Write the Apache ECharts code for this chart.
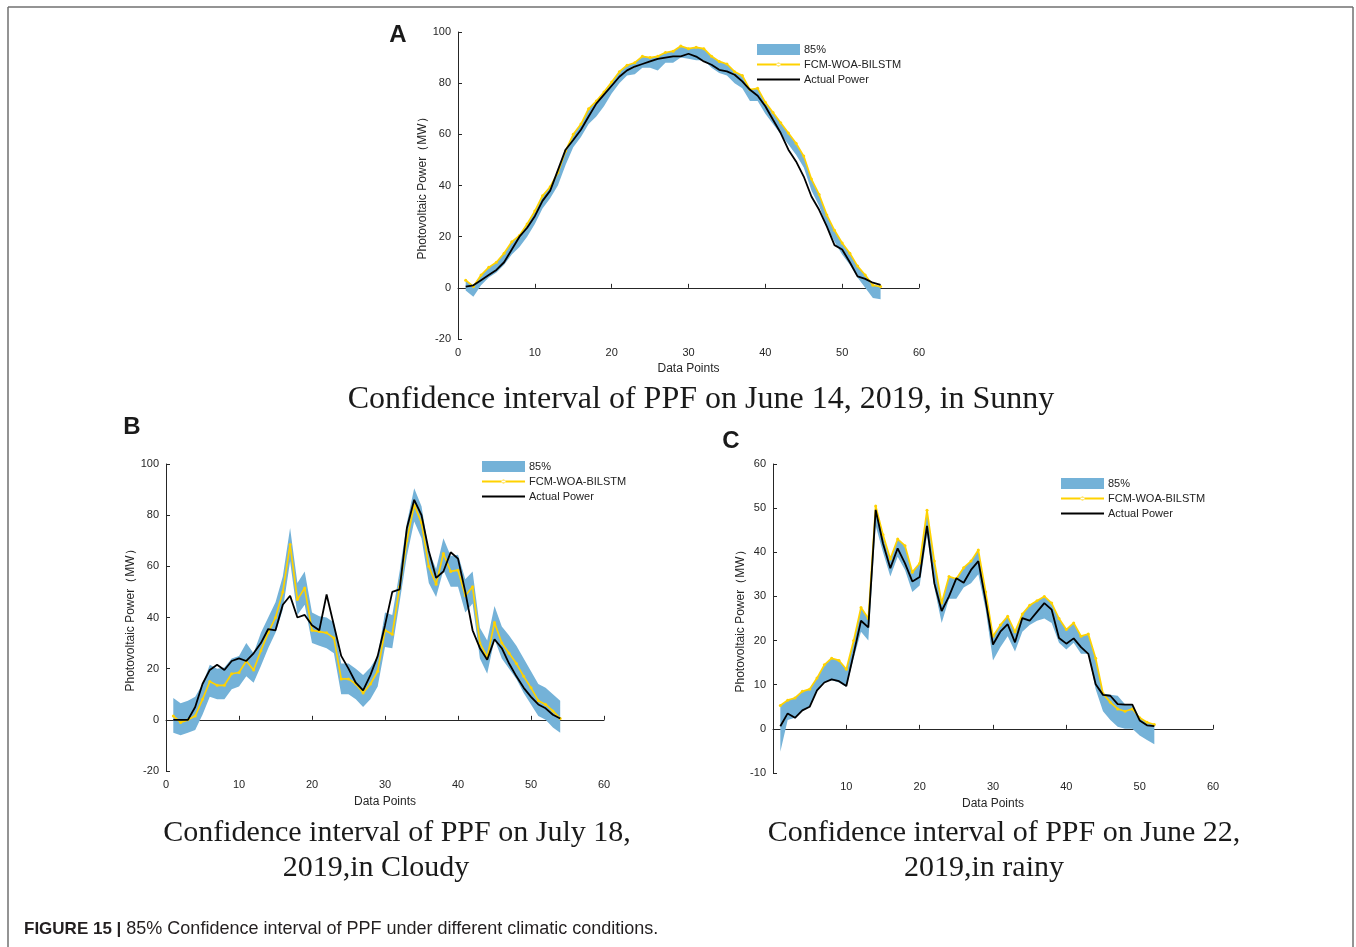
<!DOCTYPE html>
<html><head><meta charset="utf-8">
<script src="https://cdn.jsdelivr.net/npm/echarts@6/dist/echarts.min.js"></script>
<style>html,body{margin:0;padding:0;background:#fff}#c{width:1356px;height:947px}</style>
</head><body><div id="c"></div>
<script>
// ---------- Panel A: June 14, 2019, Sunny ----------
const actualA = [0.5,1,3,5,7,10,15,20,23.5,28,34,38,46,54,57.8,61.8,67,72,75.5,79,82.5,85,86.5,87.5,88.5,89.5,90,90.5,90.5,91.5,90.4,88.5,87.2,85.2,84.6,83.3,80.7,77.4,75.1,71,65.7,60.5,54,49.4,43.5,35.7,30.5,24,16.7,15,10,4.5,3.5,2,1.2];
const predA   = [3,0.5,5,8,10,13.5,18,20.5,25,30,36,39.5,45,53.5,60,64,70,73,76.5,80.5,84.5,87,88,90.5,90,90.5,92,92.5,94.5,93.5,94,93.5,90.5,88.5,87.5,84.5,83,77.5,78,72.5,68.5,64.5,60.5,56.5,51.5,42.5,36.5,28.5,22.5,17.5,13.5,8.5,5,1,0.5];
const lowerA  = [-1,-3.5,1,4,6,9,13,16,20,25,31,35,40,48,55,59,64,67,71,76,80,83,83.5,86,86,85,88,88,90,89.5,89,89,86,84,83,80,78,73,73,68,64,60,56,52,47,38,32,24,18,13,9,4,0,-4,-4.5];
const upperA  = [3,1,5,8,10,13.5,18,20.5,25,30,36,39.5,45,53.5,60,64,70,73,76.5,80.5,84.5,87,88,90.5,90,90.5,92,92.5,94.5,93.5,94,93.5,90.5,88.5,87.5,84.5,83,77.5,78,72.5,68.5,64.5,60.5,56.5,51.5,42.5,36.5,28.5,22.5,17.5,13.5,8.5,5,1,0.5];

// ---------- Panel B: July 18, 2019, Cloudy ----------
const actualB = [0,0,0,5,14,19.5,21.5,19.5,23,24,23,26,30,35.5,35,45,48.5,40,41,37,35,49,37,25,20,14.5,11.5,17.5,25,37,50,51,75,86,80,66,55.5,58,65.5,63,50,35,28,23.5,31.5,28,22,17,12.5,9,6,4.5,2,0.5];
const predB   = [1.5,-1,0,1.5,8,15,13.5,13.5,18,18.5,23,19.5,27,34,40,50,68.5,47,51.5,35,34.5,34,32,16,16,14,10.5,14,19,35,33.5,52,70,84,77,60,53,65,58,58.5,48.5,52,30,24.5,38,30,26,22,17,12.5,7.5,6,3.5,0.5];
const lowerB  = [-5,-6,-5,-4,2,9,8,8,12,13,17,14.5,21,28,34,43,62,41,45,30,29,28,26,10,10,8,5,8,13,28.5,28,46,64,77.5,71,53.5,48,58.5,52,52,42,45.5,24,18,31.5,24,20,16,10.5,6,1.5,0,-3,-5];
const upperB  = [8.5,6.5,7.5,9,14,21.5,20,20.5,24,25,30,26,34,40,46,56,75,53.5,58,42,40.5,40,38,22,22,20,17.5,20.5,25,42,41,58,77,90.5,83.5,66,59,71,64,64.5,55,58,36,31,44.5,36.5,33,29,24,19,14,12.5,10,7.5];

// ---------- Panel C: June 22, 2019, rainy ----------
const actualC = [0.6,3.5,2.5,4.2,5,8.7,10.5,11.2,10.8,9.7,17,24.5,23,49.6,42,36.4,40.9,37.5,33.4,34.4,46,33,26.7,30,34.1,33.1,36,38,29,19.1,22,23.7,19.6,25.1,24.5,26.5,28.5,27,20.6,19.3,20.5,18.5,17,10.1,7.7,7.5,5.6,5.5,5.5,1.9,0.8,0.6];
const predC   = [5.3,6.5,7,8.5,9,11.5,14.5,16,15.5,13.5,20,27.5,25,50.5,44,38.5,43,41.5,35.5,37.5,49.5,38,28.5,34.5,34,36.5,38,40.5,31,21,23.5,25.5,22,26,28,29,30,28.5,25,22.5,24,21,21.5,16,8,6,4.5,4,4.5,2.5,1.5,1];
const lowerC  = [-5.2,2,2.5,4,5,8.5,10.5,11,10.5,9.5,16,22,20,46,40,34.5,39,36,31,32.5,44,32,24,29.5,29.5,32,33,35,27,15.5,18.5,21,17.5,22,23.5,24.5,25,24,19.5,18,19.5,17,17,9,4,2,0.5,0,0,-1.5,-2.5,-3.5];
const upperC  = [5.3,6.5,7,8.5,9,11.5,14.5,16,15.5,13.5,20,27.5,25,50.5,44,38.5,43,41.5,35.5,37.5,49.5,38,28.5,34.5,34,36.5,38,40.5,31,21,23.5,25.5,22,26,28,29,30,28.5,25,22.5,24,21,21.5,16,8,7.7,7.5,5.6,5.5,2.5,1.5,1];

// ---------- tick settings ----------
const xTicks = [0,10,20,30,40,50,60];
const yTicksAB = [-20,0,20,40,60,80,100];
const yTicksC = [-10,0,10,20,30,40,50,60];

const BLUE = '#74b2d8', YEL = '#ffd200';
const FONT = '"Liberation Sans", Arial, sans-serif';
const SERIF = '"Liberation Serif", "Times New Roman", serif';

const chart = echarts.init(document.getElementById('c'), null, {renderer:'canvas'});

const grids = [
  {left:458, right:437, top:32, bottom:608},
  {left:166, right:752, top:464, bottom:176},
  {left:773, right:143, top:464, bottom:174}
];
const yRanges = [[yTicksAB, 20],[yTicksAB, 20],[yTicksC, 10]];
const yNameGaps = [27, 27, 23];
const xNameGaps = [24, 25, 25];

function axisCommon(){
  return {
    axisLine:{show:true, lineStyle:{color:'#262626', width:1}},
    axisTick:{show:true, inside:true, length:4, lineStyle:{color:'#262626'}},
    axisLabel:{color:'#262626', fontSize:11, fontFamily:FONT, margin:7},
    splitLine:{show:false},
    nameTextStyle:{color:'#262626', fontSize:12, fontFamily:FONT}
  };
}

const xAxes = grids.map((g,i)=>Object.assign(axisCommon(), {
  type:'value', gridIndex:i, min:xTicks[0], max:xTicks[xTicks.length-1], interval:10,
  name:'Data Points', nameLocation:'middle', nameGap:xNameGaps[i],
  axisLabel:Object.assign(axisCommon().axisLabel, {margin:8,
    formatter: v => (i===2 && v===0) ? '' : String(v)})
}));
const yAxes = grids.map((g,i)=>Object.assign(axisCommon(), {
  type:'value', gridIndex:i, min:yRanges[i][0][0], max:yRanges[i][0][yRanges[i][0].length-1],
  interval:yRanges[i][1],
  name:'Photovoltaic Power\uFF08MW\uFF09', nameLocation:'middle', nameGap:yNameGaps[i], nameRotate:90
}));

const panels = [
  {lower:lowerA, upper:upperA, pred:predA, act:actualA},
  {lower:lowerB, upper:upperB, pred:predB, act:actualB},
  {lower:lowerC, upper:upperC, pred:predC, act:actualC}
];

const series = [];
panels.forEach((p,i)=>{
  const xs = p.act.map((_,k)=>k+1);
  series.push({
    type:'custom', name:'85%', xAxisIndex:i, yAxisIndex:i, z:1, silent:true,
    itemStyle:{color:BLUE},
    data: xs.map((x,k)=>[x, p.lower[k], p.upper[k]]),
    encode:{x:0, y:[1,2]},
    renderItem:(params, api)=>{
      if (params.dataIndex !== 0) return null;
      const pts = [];
      for (let k=0;k<xs.length;k++) pts.push(api.coord([xs[k], p.upper[k]]));
      for (let k=xs.length-1;k>=0;k--) pts.push(api.coord([xs[k], p.lower[k]]));
      return {type:'polygon', shape:{points:pts}, style:{fill:BLUE}};
    }
  });
  series.push({
    type:'line', name:'FCM-WOA-BILSTM', xAxisIndex:i, yAxisIndex:i,
    symbol:'circle', symbolSize:3, showSymbol:true,
    lineStyle:{color:YEL, width:1.7}, itemStyle:{color:YEL}, z:3,
    data: xs.map((x,k)=>[x, p.pred[k]])
  });
  series.push({
    type:'line', name:'Actual Power', xAxisIndex:i, yAxisIndex:i,
    symbol:'none', lineStyle:{color:'#000', width:1.8}, itemStyle:{color:'#000'}, z:4,
    data: xs.map((x,k)=>[x, p.act[k]])
  });
});

const ICON_LINE = 'path://M0,0L0.01,0Z M0,4H43V6H0Z M0,10L0.01,10Z';
const ICON_DOT  = 'path://M0,0L0.01,0Z M0,4H43V6H0Z M19.5,5a2,2 0 1,0 4,0a2,2 0 1,0 -4,0Z M0,10L0.01,10Z';

const legendPos = [{left:757, top:44},{left:482, top:461},{left:1061, top:478}];
const legends = legendPos.map(pos=>({
  orient:'vertical', left:pos.left, top:pos.top, itemWidth:43, itemHeight:11, itemGap:4,
  padding:0, selectedMode:false,
  textStyle:{fontSize:11, fontFamily:FONT, color:'#222', padding:[0,0,0,-1]},
  data:[
    {name:'85%', icon:'rect', itemStyle:{color:BLUE}},
    {name:'FCM-WOA-BILSTM', icon:ICON_DOT, itemStyle:{color:YEL, opacity:1}},
    {name:'Actual Power', icon:ICON_LINE, itemStyle:{color:'#000'}}
  ]
}));

const line = (x1,y1,x2,y2)=>({type:'line', shape:{x1,y1,x2,y2}, style:{stroke:'#707070', lineWidth:1.5}, silent:true});
const txt = (text,x,y,font,align)=>({type:'text', x, y, silent:true,
  style:{text, font, fill:'#1a1a1a', textAlign:align||'center', textVerticalAlign:'middle'}});

const graphic = [
  line(8,7,1353,7), line(8,7,8,947), line(1353,7,1353,947),
  txt('A',398,35,'bold 24px '+FONT),
  txt('B',132,427,'bold 24px '+FONT),
  txt('C',731,441,'bold 24px '+FONT),
  txt('Confidence interval of PPF on June 14, 2019, in Sunny',701,400,'32px '+SERIF),
  txt('Confidence interval of PPF on July 18,',397,833,'30px '+SERIF),
  txt('2019,in Cloudy',376,868,'30px '+SERIF),
  txt('Confidence interval of PPF on June 22,',1004,833,'30px '+SERIF),
  txt('2019,in rainy',984,868,'30px '+SERIF),
  {type:'text', x:24, y:929, silent:true, style:{
    text:'{b|FIGURE 15 |} 85% Confidence interval of PPF under different climatic conditions.',
    font:'18px '+FONT, fill:'#231f20', textVerticalAlign:'middle',
    rich:{b:{fontWeight:'bold', fontSize:17, fontFamily:FONT, fill:'#231f20'}}
  }}
];

chart.setOption({
  animation:false,
  backgroundColor:'#fff',
  grid:grids, xAxis:xAxes, yAxis:yAxes, legend:legends, series, graphic
});
</script>
</body></html>
